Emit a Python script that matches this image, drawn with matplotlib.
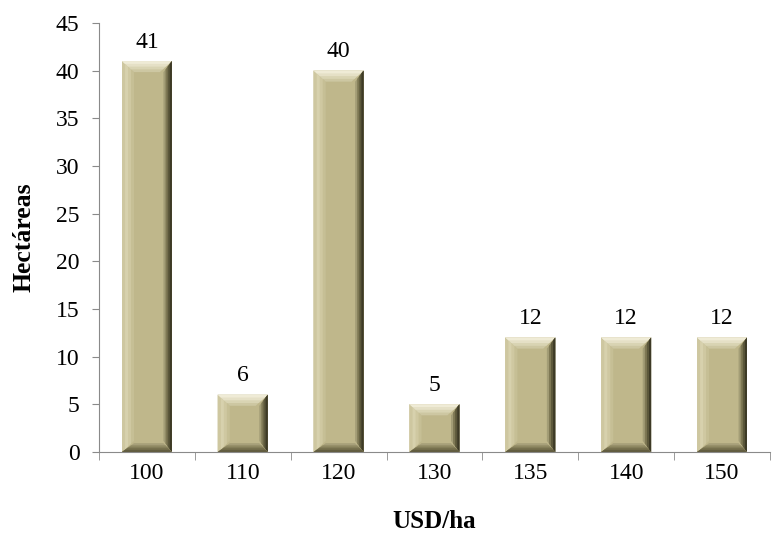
import matplotlib.pyplot as plt
from matplotlib.patches import Polygon
import numpy as np

plt.rcParams['font.family'] = ['Liberation Serif', 'DejaVu Serif']

precios = ['100', '110', '120', '130', '135', '140', '150']
hectareas = [41, 6, 40, 5, 12, 12, 12]

fig = plt.figure(figsize=(7.82, 5.34), dpi=100)
ax = fig.add_axes([0.1266, 0.1536, 0.858, 0.8034])

x = np.arange(len(precios))
ancho = 0.52
ax.set_xlim(-0.5, len(precios) - 0.5)
ax.set_ylim(0, 45)

# bisel de cada barra: tamaño en píxeles pasado a unidades de datos
px_x = ax.get_window_extent().width / len(precios)
px_y = ax.get_window_extent().height / 45
bx = 12 / px_x
by = 11 / px_y


def pieza(pts, color):
    ax.add_patch(Polygon(pts, closed=True, facecolor=color, edgecolor='none', zorder=3))


capas = [1.0, 0.75, 0.5, 0.25]
cara = '#bfb78b'
for xi, h in zip(x, hectareas):
    x0, x1 = xi - ancho / 2, xi + ancho / 2
    pieza([(x0, 0), (x1, 0), (x1, h), (x0, h)], cara)
    # izquierda
    for f, c in zip(capas, ['#c6bf95', '#cfc8a1', '#d7d1ad', '#cec7a0']):
        pieza([(x0, 0), (x0 + bx * f, by * f), (x0 + bx * f, h - by * f), (x0, h)], c)
    # arriba
    for f, c in zip(capas, ['#cdc7a2', '#d9d4b3', '#e5e0c6', '#efebd6']):
        pieza([(x0, h), (x1, h), (x1 - bx * f, h - by * f), (x0 + bx * f, h - by * f)], c)
    # derecha, oscureciendo hacia el borde
    for f, c in zip(capas, ['#a39d76', '#7e7854', '#5c583b', '#3d3a26']):
        pieza([(x1, 0), (x1 - bx * f * 0.7, by * f), (x1 - bx * f * 0.7, h - by * f), (x1, h)], c)
    # abajo
    for f, c in zip(capas, ['#a7a07a', '#8f8962', '#77714e', '#625d40']):
        pieza([(x0, 0), (x1, 0), (x1 - bx * f * 0.7, by * f * 0.8), (x0 + bx * f, by * f * 0.8)], c)
    ax.text(xi, h + 1.4, str(h), ha='center', va='baseline', fontsize=17, color='black')

ax.set_xticks(x)
ax.set_xticklabels(precios, fontsize=17)
ax.set_xticks(np.arange(-0.5, len(precios)), minor=True)
ax.tick_params(axis='x', which='major', length=0, pad=8)
ax.tick_params(axis='x', which='minor', length=6, color='#8a8a8a', direction='out')
ax.set_yticks(np.arange(0, 46, 5))
ax.tick_params(axis='y', labelsize=17, length=5, color='#8a8a8a', pad=9)

for lado in ['top', 'right']:
    ax.spines[lado].set_visible(False)
for lado in ['left', 'bottom']:
    ax.spines[lado].set_color('#8a8a8a')

ax.set_xlabel('USD/ha', fontsize=18, fontweight='bold', labelpad=19)
ax.set_ylabel('Hectáreas', fontsize=18.5, fontweight='bold', labelpad=15)

fig.savefig('out.png', dpi=100)
